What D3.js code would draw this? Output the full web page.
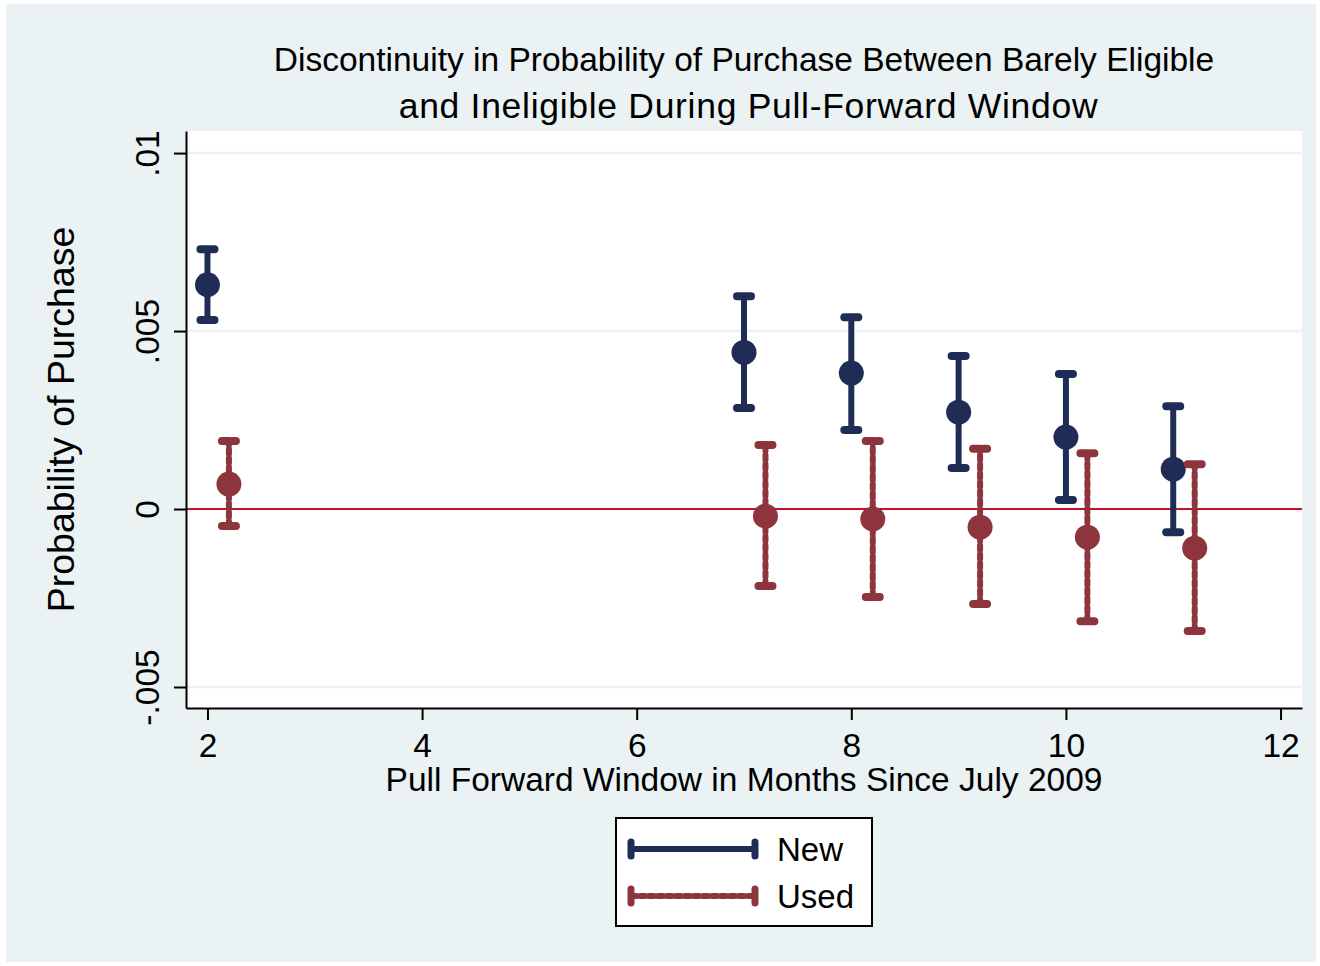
<!DOCTYPE html>
<html><head><meta charset="utf-8">
<script src="https://cdn.jsdelivr.net/npm/d3@7"></script>
<style>body{margin:0;background:#fff;font-family:"Liberation Sans",Arial,sans-serif}</style>
</head><body>
<svg id="c" width="1320" height="966"></svg>
<script>
const months = [2, 7, 8, 9, 10, 11];
const newEst = [0.0063, 0.0044, 0.00382, 0.00272, 0.00202, 0.00112];
const newLo  = [0.00531, 0.00284, 0.00222, 0.00115, 0.00025, -0.00065];
const newHi  = [0.0073, 0.00598, 0.00539, 0.0043, 0.00379, 0.00289];
const usedOffset = 0.2;
const usedEst = [0.0007, -0.0002, -0.00028, -0.00051, -0.00079, -0.0011];
const usedLo  = [-0.00048, -0.00216, -0.00247, -0.00267, -0.00315, -0.00343];
const usedHi  = [0.00191, 0.0018, 0.00191, 0.00169, 0.00157, 0.00126];
const xTicks = [2, 4, 6, 8, 10, 12];
const yTicks = [-0.005, 0, 0.005, 0.01];
const yTickLabels = ["-.005", "0", ".005", ".01"];
const titleLines = ["Discontinuity in Probability of Purchase Between Barely Eligible", "and Ineligible During Pull-Forward Window"];
const xTitle = "Pull Forward Window in Months Since July 2009";
const yTitle = "Probability of Purchase";
const seriesNames = ["New", "Used"];
const colors = {New: "#1f2d56", Used: "#8d343d"};

const FS = 33.5;
const svg = d3.select("#c");
svg.append("rect").attr("x",6).attr("y",4).attr("width",1310).attr("height",958).attr("fill","#eaf2f3");
const L=186, R=1302, T=131, B=708;
const x = d3.scaleLinear().domain([1.8,12.2]).range([L,R]);
const y = d3.scaleLinear().domain([-0.00559,0.01062]).range([B,T]);
svg.append("rect").attr("x",L).attr("y",T).attr("width",R-L).attr("height",B-T).attr("fill","#fff");
// gridlines
svg.append("g").selectAll("line").data(yTicks).join("line")
  .attr("x1",L).attr("x2",R).attr("y1",d=>y(d)).attr("y2",d=>y(d))
  .attr("stroke","#eaf2f3").attr("stroke-width",2.5);
// zero line
svg.append("line").attr("x1",L).attr("x2",R).attr("y1",y(0)).attr("y2",y(0)).attr("stroke","#c8102e").attr("stroke-width",2);
// axes
const xa = svg.append("g").attr("transform",`translate(0,${B})`)
  .call(d3.axisBottom(x).tickValues(xTicks).tickFormat(d3.format("d")).tickSize(12).tickPadding(13).tickSizeOuter(0));
xa.select(".domain").attr("stroke","#000").attr("stroke-width",2);
xa.selectAll(".tick line").attr("stroke","#000").attr("stroke-width",2);
xa.selectAll("text").attr("font-size",FS).attr("font-family","Liberation Sans, Arial, sans-serif").attr("fill","#000");
const ya = svg.append("g").attr("transform",`translate(${L},0)`)
  .call(d3.axisLeft(y).tickValues(yTicks).tickFormat((d,i)=>yTickLabels[i]).tickSize(12).tickSizeOuter(0));
ya.select(".domain").attr("stroke","#000").attr("stroke-width",2);
ya.selectAll(".tick line").attr("stroke","#000").attr("stroke-width",2);
ya.selectAll(".tick text").attr("font-size",FS).attr("font-family","Liberation Sans, Arial, sans-serif").attr("fill","#000")
  .attr("text-anchor","middle").attr("x",0).attr("y",0).attr("dy","0.35em")
  .attr("transform","translate(-39,0) rotate(-90)");
// titles
const tt = svg.append("text").attr("text-anchor","middle").attr("fill","#000");
titleLines.forEach((t,i)=>tt.append("tspan").attr("x",i===0?744:748.5).attr("y",71+i*47)
  .attr("font-size",i===0?FS:35.5).attr("letter-spacing",i===0?0:0.7).text(t));
svg.append("text").attr("x",744).attr("y",791).attr("text-anchor","middle").attr("font-size",FS).text(xTitle);
svg.append("text").attr("transform",`translate(74,${(T+B)/2}) rotate(-90)`).attr("text-anchor","middle").attr("font-size",37.5).text(yTitle);

function drawSeries(xs, est, lo, hi, color, dashed){
  const g = svg.append("g");
  const data = xs.map((m,i)=>({x:m, e:est[i], lo:lo[i], hi:hi[i]}));
  const dash = dashed ? "5 4" : null;
  g.selectAll(".v").data(data).join("line")
    .attr("x1",d=>x(d.x)).attr("x2",d=>x(d.x)).attr("y1",d=>y(d.lo)).attr("y2",d=>y(d.hi))
    .attr("stroke",color).attr("stroke-width",6).attr("stroke-dasharray",dash).attr("stroke-linecap",dashed?"round":"butt");
  ["lo","hi"].forEach(k=>{
    g.selectAll(".c"+k).data(data).join("line")
      .attr("x1",d=>x(d.x)-7).attr("x2",d=>x(d.x)+7).attr("y1",d=>y(d[k])).attr("y2",d=>y(d[k]))
      .attr("stroke",color).attr("stroke-width",8).attr("stroke-linecap","round").attr("stroke-dasharray",dashed?"8 3":null);
  });
  g.selectAll("circle").data(data).join("circle")
    .attr("cx",d=>x(d.x)).attr("cy",d=>y(d.e)).attr("r",12.5).attr("fill",color);
}
drawSeries(months, newEst, newLo, newHi, colors.New, false);
drawSeries(months.map(m=>m+usedOffset), usedEst, usedLo, usedHi, colors.Used, true);

// legend
const lg = svg.append("g");
lg.append("rect").attr("x",616).attr("y",818).attr("width",256).attr("height",108).attr("fill","#fff").attr("stroke","#000").attr("stroke-width",2);
seriesNames.forEach((n,i)=>{
  const yy = 849 + i*47;
  const dashed = i===1;
  const c = colors[n];
  lg.append("line").attr("x1",631).attr("x2",755).attr("y1",yy).attr("y2",yy).attr("stroke",c).attr("stroke-width",6)
    .attr("stroke-dasharray",dashed?"5 4":null).attr("stroke-linecap",dashed?"round":"butt");
  [631,755].forEach(xx=>lg.append("line").attr("x1",xx).attr("x2",xx).attr("y1",yy-7).attr("y2",yy+7)
    .attr("stroke",c).attr("stroke-width",7).attr("stroke-linecap","round"));
  lg.append("text").attr("x",777).attr("y",yy+12).attr("font-size",33).text(n);
});
</script>
</body></html>
